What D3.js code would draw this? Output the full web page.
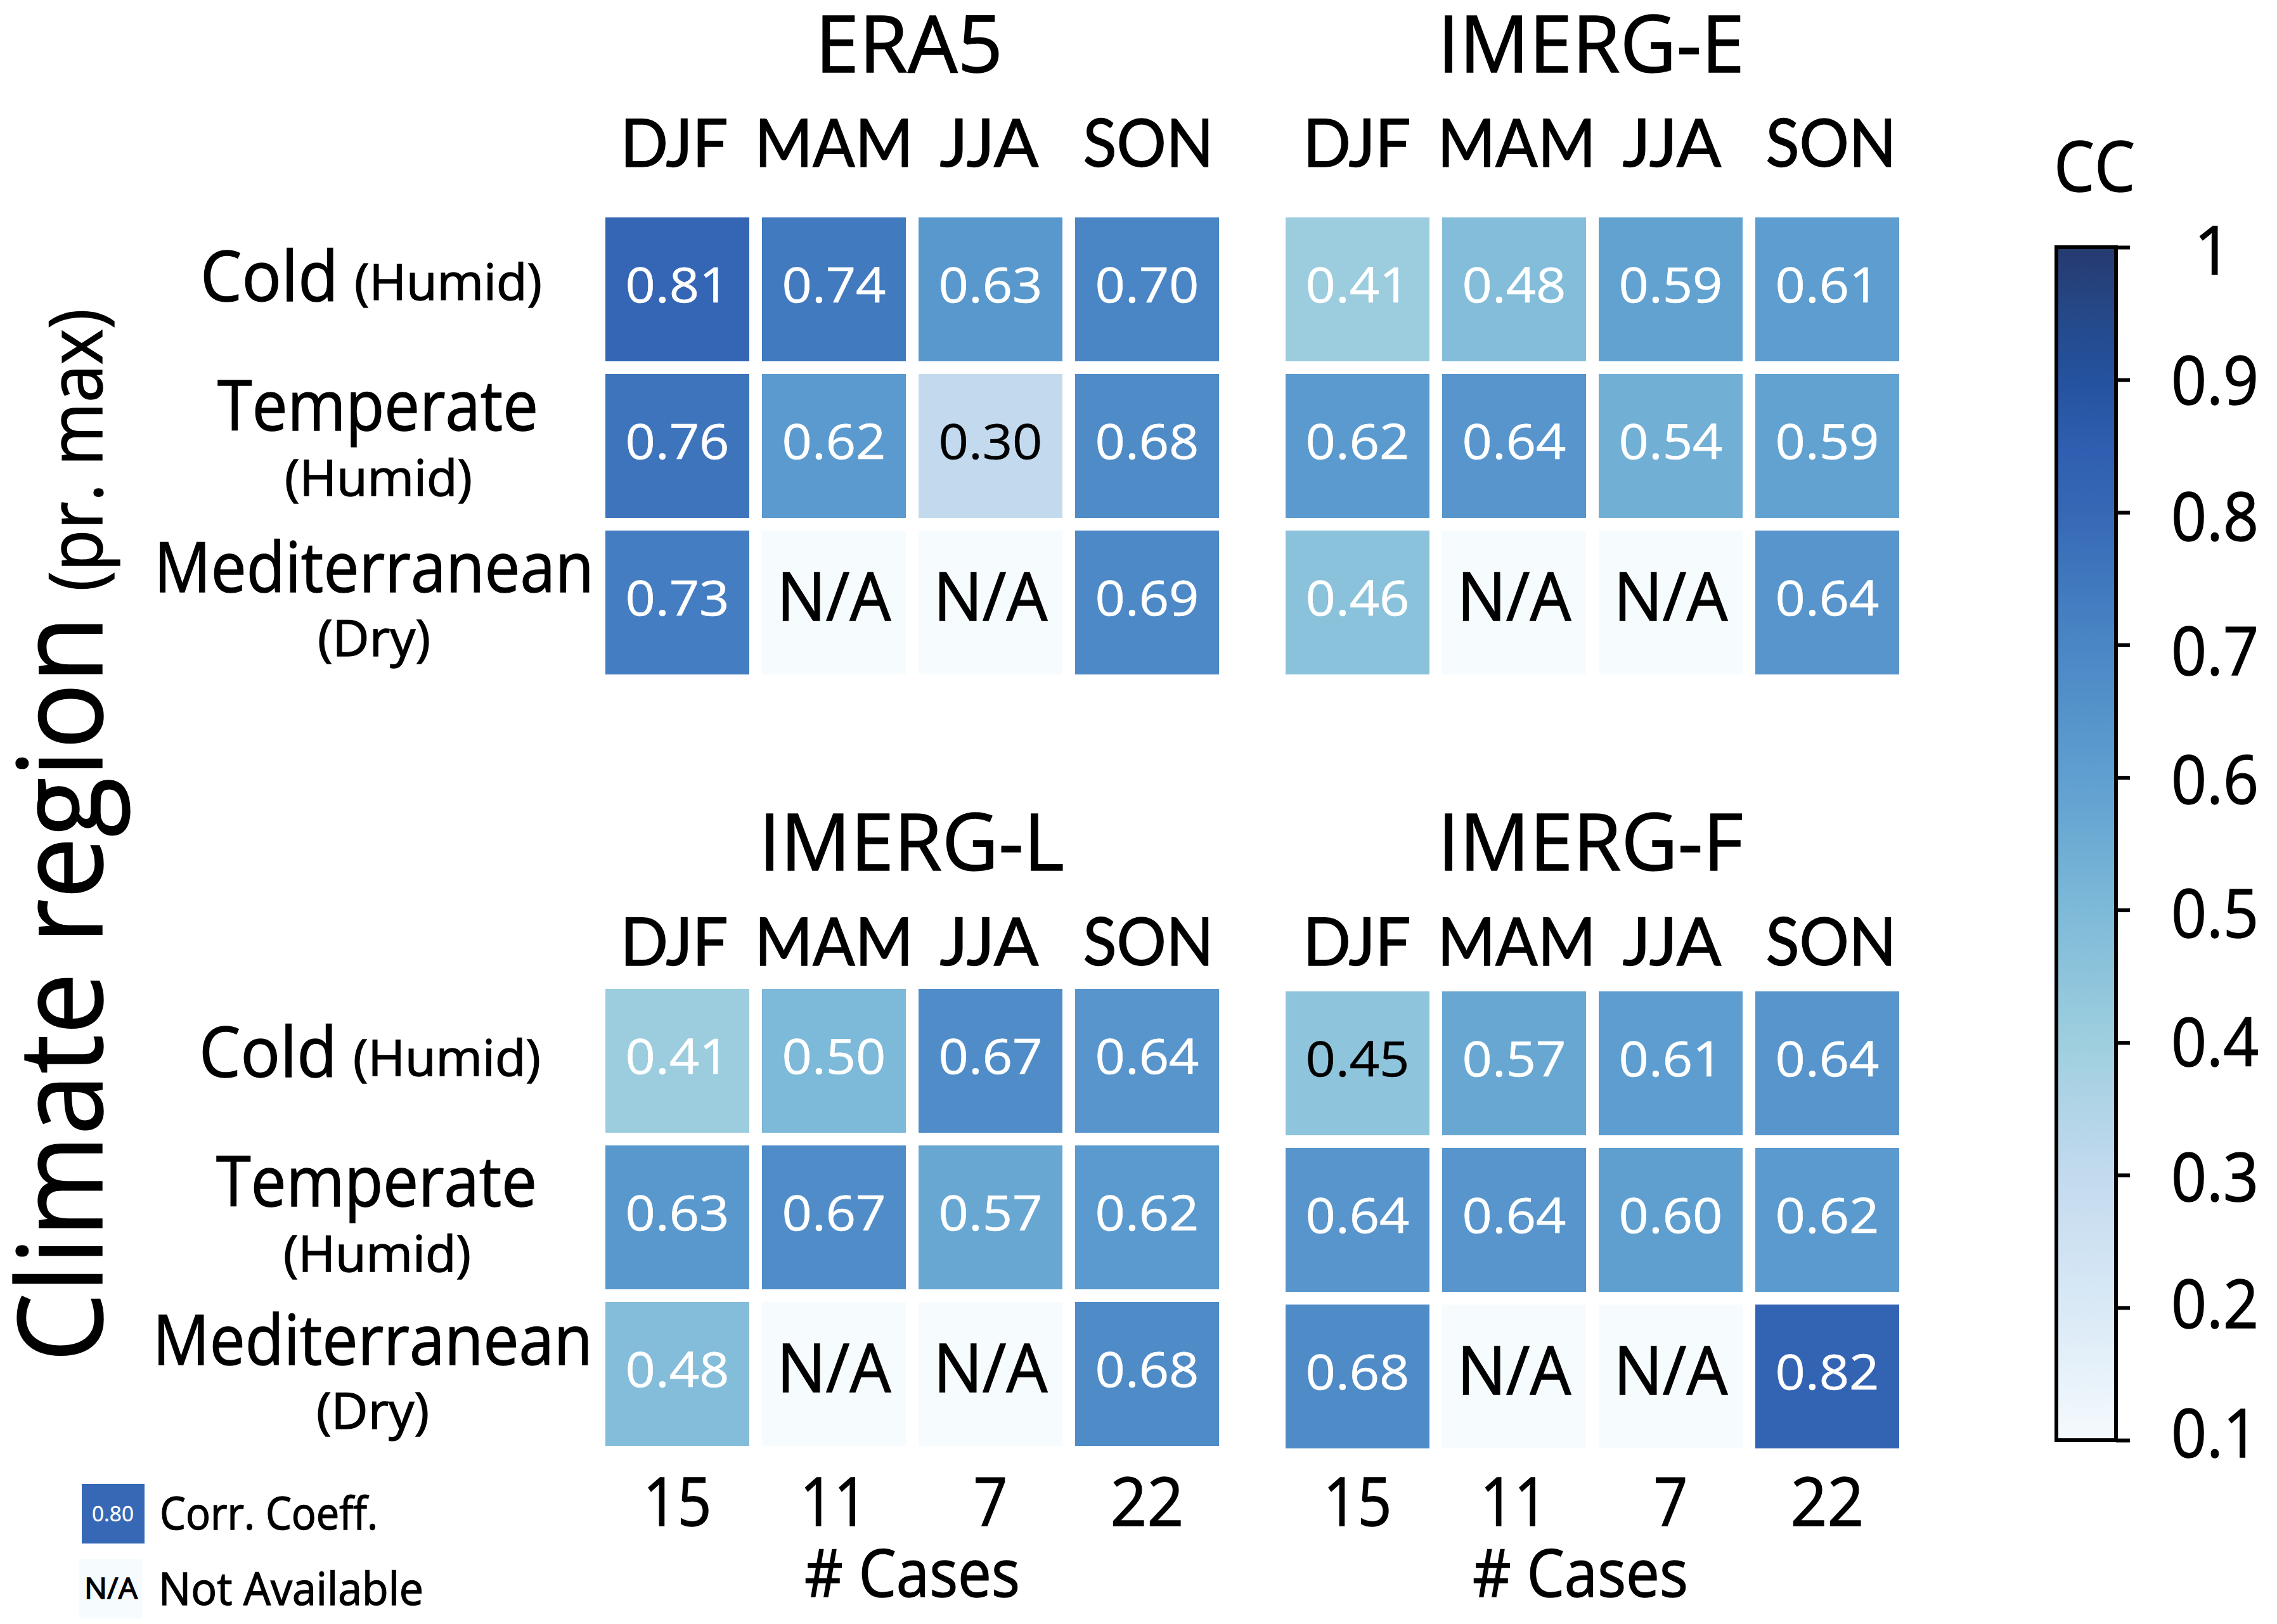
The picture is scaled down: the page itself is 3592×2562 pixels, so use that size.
<!DOCTYPE html>
<html>
<head>
<meta charset="utf-8">
<script src="https://d3js.org/d3.v7.min.js"></script>
<style>
body { margin: 0; background: #fff; }
text { font-family: "Open Sans", "Noto Sans", sans-serif; fill: #000; stroke: #000; stroke-width: 1.4px; }
.season text { font-family: Lato, "Open Sans", sans-serif; }
</style>
</head>
<body>
<div id="chart"></div>
<script>
var seasons = ["DJF", "MAM", "JJA", "SON"];
var regions = ["Cold", "Temperate", "Mediterranean"];
var cases = [15, 11, 7, 22];

var era5 = [[0.81, 0.74, 0.63, 0.70], [0.76, 0.62, 0.30, 0.68], [0.73, null, null, 0.69]];
var imergE = [[0.41, 0.48, 0.59, 0.61], [0.62, 0.64, 0.54, 0.59], [0.46, null, null, 0.64]];
var imergL = [[0.41, 0.50, 0.67, 0.64], [0.63, 0.67, 0.57, 0.62], [0.48, null, null, 0.68]];
var imergF = [[0.45, 0.57, 0.61, 0.64], [0.64, 0.64, 0.60, 0.62], [0.68, null, null, 0.82]];

// cells printed with black digits in the original
var darkValues = [0.30, 0.45];

var ccTicks = [1, 0.9, 0.8, 0.7, 0.6, 0.5, 0.4, 0.3, 0.2, 0.1];
var ccStops = [0.1, 0.2, 0.3, 0.4, 0.5, 0.6, 0.7, 0.8, 0.85, 0.9, 0.95, 1];
var ccColors = ["#f5fafd", "#d9e9f6", "#c3daee", "#9ecfdf", "#7db9d8", "#5f9fd0",
	"#4a86c5", "#3668b6", "#2f5eb0", "#24529f", "#254888", "#263a6e"];

var W = 3592, H = 2562;
var color = d3.scaleLinear().domain(ccStops).range(ccColors);

var svg = d3.select("#chart").append("svg")
	.attr("width", W).attr("height", H)
	.style("display", "block");

// text squeezed to the width it has in the reference (the original face is narrower)
function label(g, str, x, y, size, width) {
	return g.append("text")
		.attr("x", x).attr("y", y)
		.attr("text-anchor", "middle")
		.attr("font-size", size)
		.attr("textLength", width)
		.attr("lengthAdjust", "spacingAndGlyphs")
		.text(str);
}

var seasonW = {DJF: 170, MAM: 250, JJA: 156, SON: 206};
var seasonDx = {DJF: -5, MAM: 0, JJA: -2, SON: 2};
var caseW = {15: 108, 11: 107, 7: 54, 22: 116};

function drawPanel(p) {
	var g = svg.append("g");
	var x = d3.scaleBand().domain(seasons)
		.range([p.x, p.x + 968]).paddingInner(20 / 247);
	var y = d3.scaleBand().domain(regions)
		.range([p.y, p.y + 968 - 247]).paddingInner(20 / 247);

	label(g, p.title, p.titleX, p.titleY, 124, p.titleW);

	// season header
	g.append("g")
		.attr("class", "season")
		.attr("transform", "translate(" + p.seasonShift + "," + p.seasonY + ")")
		.call(d3.axisTop(x).tickSize(0).tickPadding(0))
		.call(a => a.select(".domain").remove())
		.selectAll("text")
		.attr("font-size", 104)
		.attr("font-family", null)
		.attr("dy", 0)
		.attr("x", d => seasonDx[d])
		.attr("textLength", d => seasonW[d])
		.attr("lengthAdjust", "spacingAndGlyphs");

	p.data.forEach(function(row, r) {
		row.forEach(function(v, c) {
			var cx = x(seasons[c]), cy = y(regions[r]);
			g.append("rect")
				.attr("x", cx).attr("y", cy)
				.attr("width", x.bandwidth()).attr("height", y.bandwidth())
				.attr("fill", v === null ? "#f6fbfe" : color(v));
			var mid = cx + x.bandwidth() / 2, ym = cy + y.bandwidth() / 2;
			if (v === null) {
				label(g, "N/A", mid, ym + 28, 106, 180);
			} else {
				var ink = darkValues.includes(v) ? "#000" : "#fff";
				label(g, v.toFixed(2), mid, ym + 20, 76, 164)
					.style("fill", ink).style("stroke", ink).style("stroke-width", "0.6px");
			}
		});
	});

	if (p.caseY) {
		g.append("g")
			.attr("transform", "translate(0," + p.caseY + ")")
			.call(d3.axisBottom(x).tickSize(0).tickPadding(0).tickFormat((d, i) => cases[i]))
			.call(a => a.select(".domain").remove())
			.selectAll("text")
			.attr("font-size", 106)
			.attr("font-family", null)
			.attr("dy", 0)
			.attr("y", 0)
			.attr("textLength", (d, i) => caseW[cases[i]])
			.attr("lengthAdjust", "spacingAndGlyphs");
		label(g, "# Cases", p.caseLabelX, 2519, 104, 340);
	}
}

drawPanel({title: "ERA5", data: era5, x: 955, y: 343, titleX: 1434, titleY: 114, titleW: 296, seasonY: 263, seasonShift: 0});
drawPanel({title: "IMERG-E", data: imergE, x: 2028, y: 343, titleX: 2510, titleY: 114, titleW: 484, seasonY: 263, seasonShift: 4});
drawPanel({title: "IMERG-L", data: imergL, x: 955, y: 1560, titleX: 1438, titleY: 1373, titleW: 482, seasonY: 1523, seasonShift: 0, caseY: 2407, caseLabelX: 1439});
drawPanel({title: "IMERG-F", data: imergF, x: 2028, y: 1564, titleX: 2509, titleY: 1373, titleW: 482, seasonY: 1523, seasonShift: 4, caseY: 2407, caseLabelX: 2493});

// row labels, same block twice
function rowLabels(dx, dy, medDy) {
	var g = svg.append("g").attr("transform", "translate(" + dx + "," + dy + ")");
	label(g, "Cold", 425, 475, 110, 218);
	label(g, "(Humid)", 707, 473, 78, 296);
	label(g, "Temperate", 596, 679, 110, 506);
	label(g, "(Humid)", 597, 782, 78, 296);
	label(g, "Mediterranean", 590, 934 + medDy, 110, 694);
	label(g, "(Dry)", 590, 1035 + medDy, 78, 178);
}
rowLabels(0, 0, 0);
rowLabels(-2, 1224, -5);

// y title
var yt = svg.append("g").attr("transform", "translate(161,0) rotate(-90)");
label(yt, "Climate region", -1560, 0, 186, 1178);
label(yt, "(pr. max)", -710, 0, 118, 446);

// colour bar
var cbY = d3.scaleLinear().domain([0.1, 1]).range([2272, 390]);
var defs = svg.append("defs");
var grad = defs.append("linearGradient").attr("id", "ccGrad")
	.attr("x1", 0).attr("x2", 0).attr("y1", 1).attr("y2", 0);
ccStops.forEach(function(s, i) {
	grad.append("stop")
		.attr("offset", (s - 0.1) / 0.9)
		.attr("stop-color", ccColors[i]);
});
svg.append("rect")
	.attr("x", 3244).attr("y", cbY(1))
	.attr("width", 94).attr("height", cbY(0.1) - cbY(1))
	.attr("fill", "url(#ccGrad)")
	.attr("stroke", "#000").attr("stroke-width", 6);

var cbDy = {1: 42, 0.9: 38, 0.8: 44, 0.7: 47, 0.6: 41, 0.5: 43, 0.4: 37, 0.3: 41, 0.2: 32, 0.1: 26};
svg.append("g")
	.attr("transform", "translate(3338,0)")
	.call(d3.axisRight(cbY).tickValues(ccTicks).tickSize(22).tickPadding(0).tickFormat(d => d == 1 ? "1" : d.toFixed(1)))
	.call(a => a.select(".domain").remove())
	.call(a => a.selectAll("line").attr("stroke", "#000").attr("stroke-width", 6))
	.selectAll("text")
	.attr("font-family", null)
	.attr("font-size", 107)
	.attr("text-anchor", "middle")
	.attr("x", d => d == 1 ? 153 : 156)
	.attr("dy", 0)
	.attr("y", d => cbDy[d])
	.attr("textLength", d => d == 1 ? 60 : 138)
	.attr("lengthAdjust", "spacingAndGlyphs");

label(svg, "CC", 3304, 302, 110, 128);

// key at bottom left
var key = svg.append("g");
key.append("rect").attr("x", 129).attr("y", 2341).attr("width", 99).attr("height", 94).attr("fill", color(0.8));
label(key, "0.80", 178, 2400, 32, 66).style("fill", "#fff").style("stroke", "#fff").style("stroke-width", "0.4px");
label(key, "Corr. Coeff.", 424, 2413, 72, 344);
key.append("rect").attr("x", 125).attr("y", 2459).attr("width", 99).attr("height", 94).attr("fill", "#f6fbfe");
label(key, "N/A", 175, 2522, 46, 84);
label(key, "Not Available", 459, 2532, 72, 418);
</script>
</body>
</html>
